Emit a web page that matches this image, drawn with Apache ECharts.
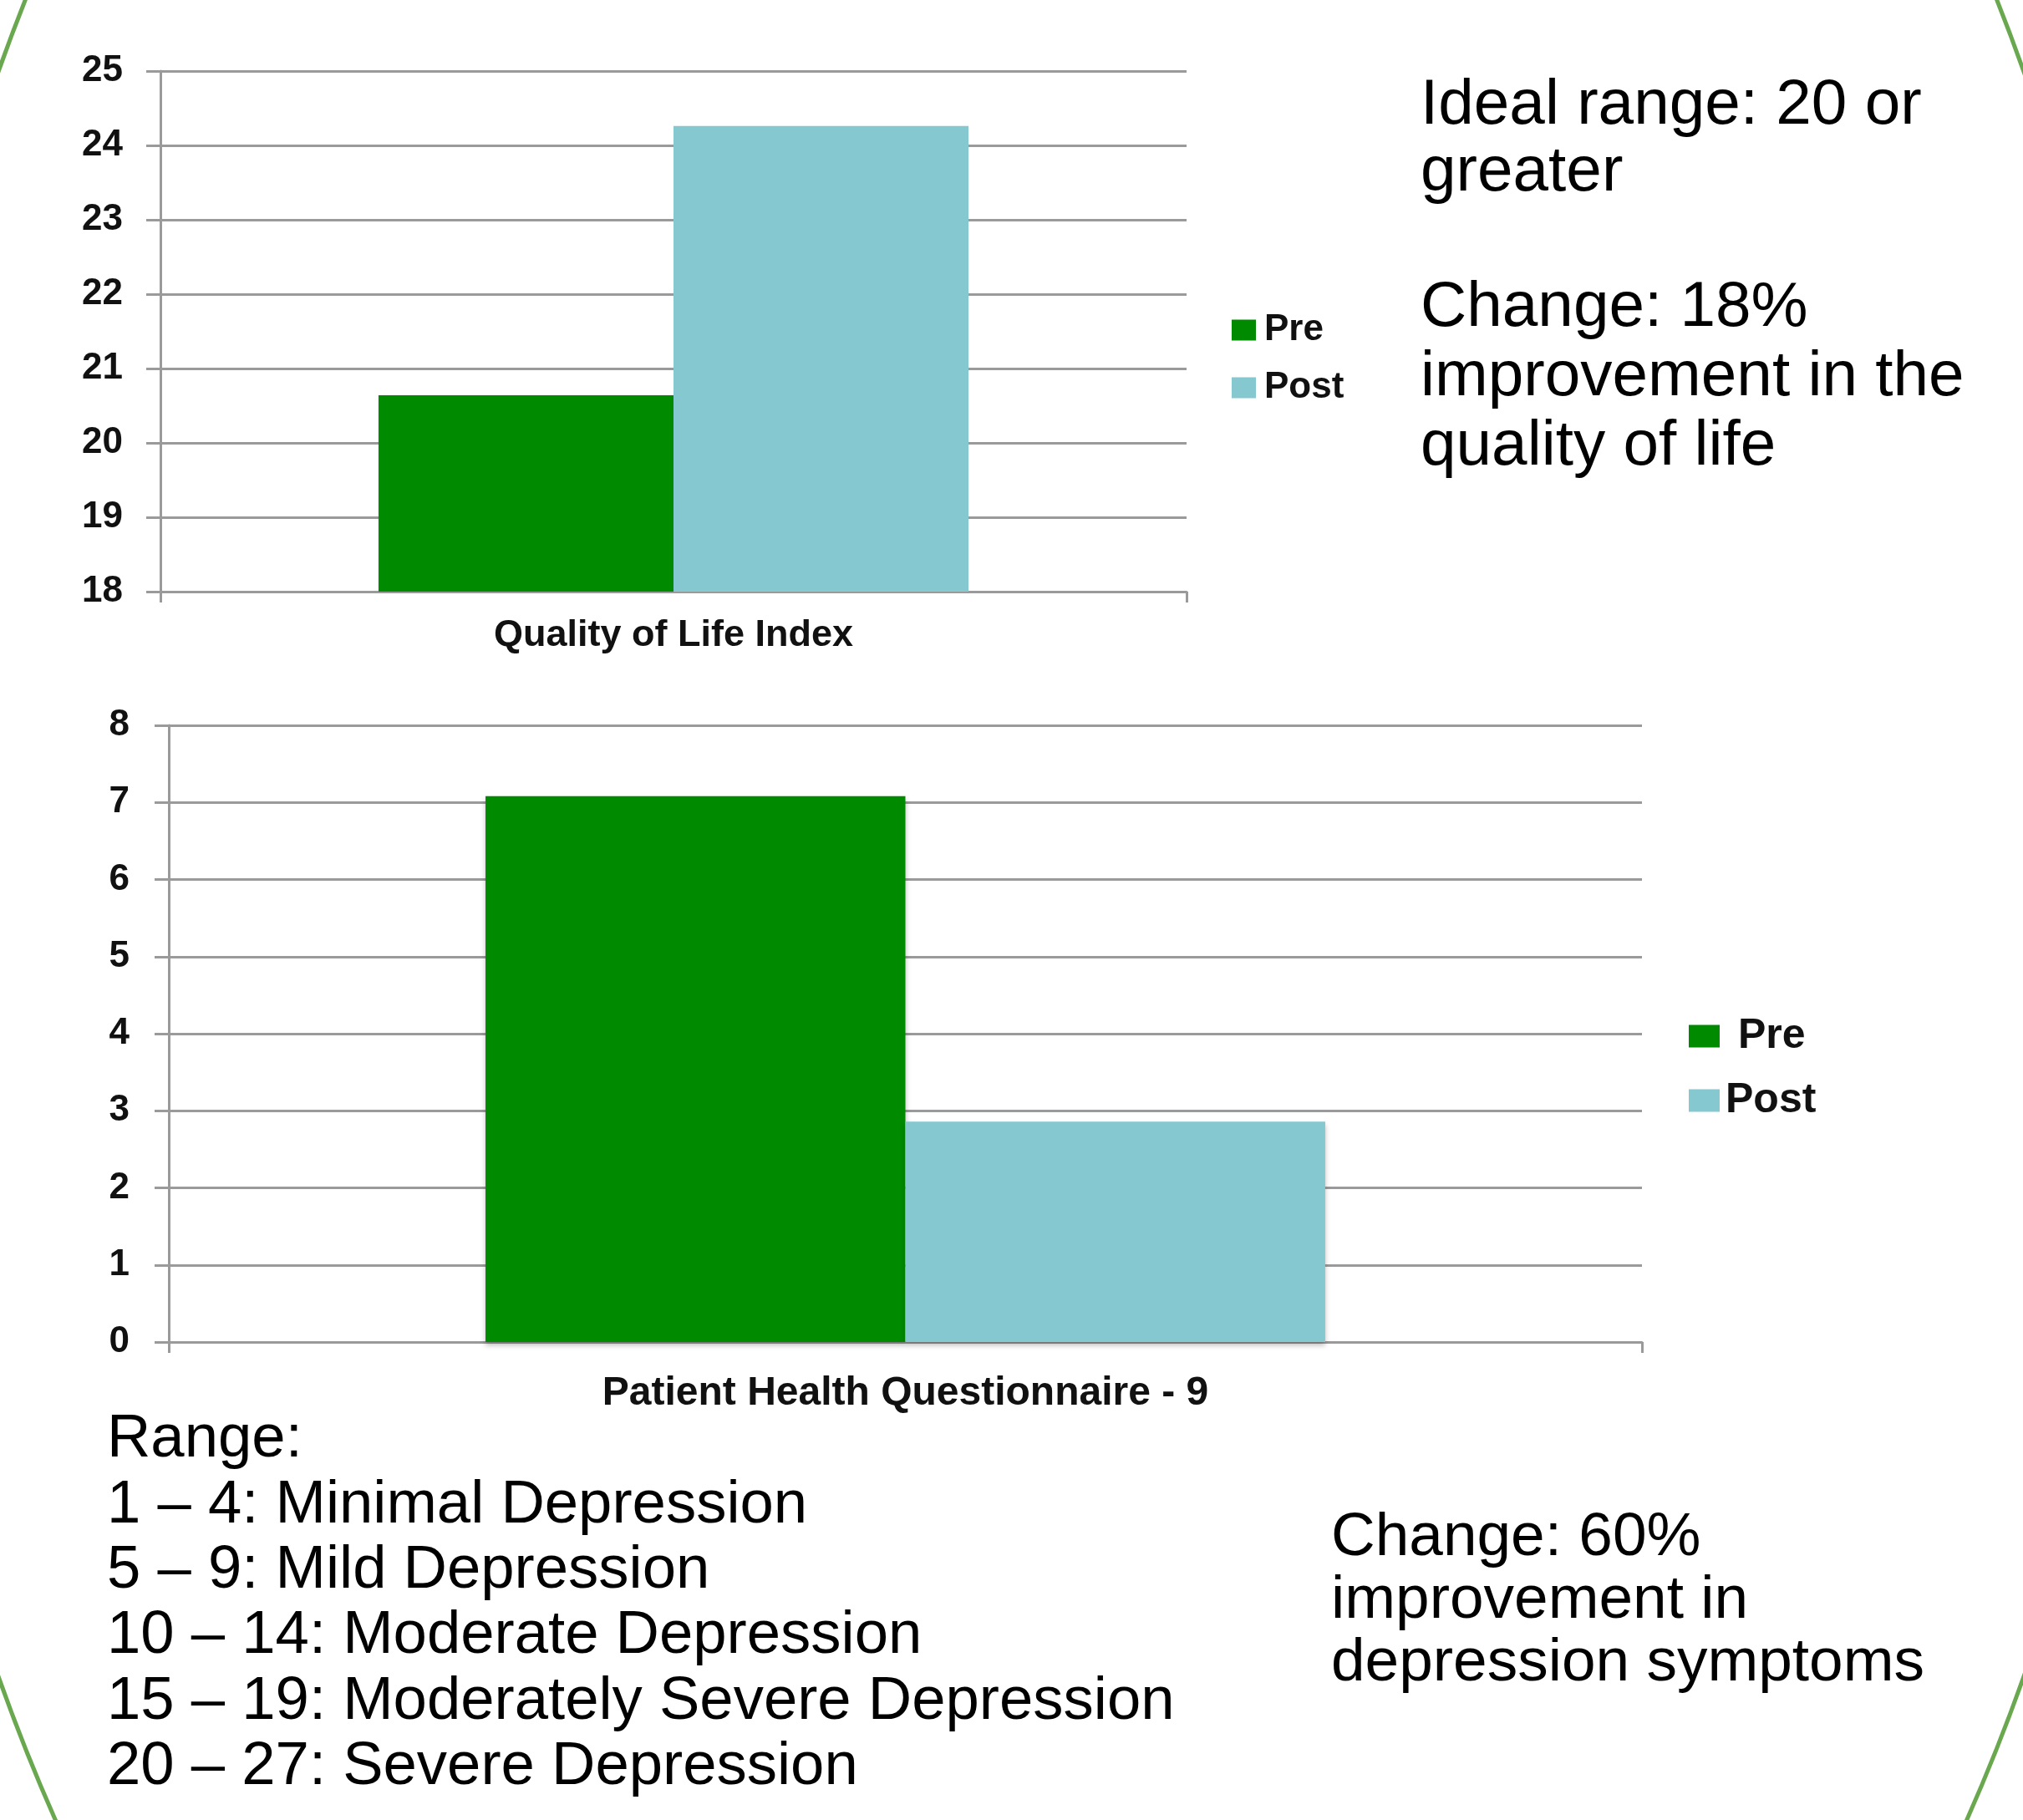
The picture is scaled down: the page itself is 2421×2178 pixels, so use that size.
<!DOCTYPE html>
<html>
<head>
<meta charset="utf-8">
<script src="https://cdn.jsdelivr.net/npm/echarts@6/dist/echarts.min.js"></script>
<style>
  html, body { margin: 0; padding: 0; background: #ffffff; }
  #main { width: 2421px; height: 2178px; }
</style>
</head>
<body>
<div id="main"></div>
<script>
// ---- data ----
var seriesNames = ['Pre', 'Post'];
var qolCategories = ['Quality of Life Index'];
var qolPre = [20.64];
var qolPost = [24.26];
var phqCategories = ['Patient Health Questionnaire - 9'];
var phqPre = [7.08];
var phqPost = [2.86];
var qolAxis = { min: 18, max: 25, interval: 1 };
var phqAxis = { min: 0, max: 8, interval: 1 };

var noteTop1 = ['Ideal range: 20 or', 'greater'];
var noteTop2 = ['Change: 18%', 'improvement in the', 'quality of life'];
var noteRange = ['Range:', '1 \u2013 4: Minimal Depression', '5 \u2013 9: Mild Depression',
  '10 \u2013 14: Moderate Depression', '15 \u2013 19: Moderately Severe Depression',
  '20 \u2013 27: Severe Depression'];
var noteBottom = ['Change: 60%', 'improvement in', 'depression symptoms'];

// ---- styles ----
var FONT = "'Liberation Sans', Arial, sans-serif";
var PRE_COLOR = '#008a00';
var POST_COLOR = '#86c8cf';
var GRID_COLOR = '#9a9a9a';

function valueAxis(gridIndex, cfg, margin) {
  return {
    type: 'value', gridIndex: gridIndex,
    min: cfg.min, max: cfg.max, interval: cfg.interval,
    axisLine: { show: true, lineStyle: { color: GRID_COLOR, width: 3 } },
    axisTick: { show: true, length: 17, lineStyle: { color: GRID_COLOR, width: 3 } },
    axisLabel: { color: '#111', fontFamily: FONT, fontSize: 44, fontWeight: 'bold', margin: margin },
    splitLine: { show: true, lineStyle: { color: GRID_COLOR, width: 3 } }
  };
}
function catAxis(gridIndex, cats, size, margin) {
  return {
    type: 'category', gridIndex: gridIndex, data: cats,
    axisLine: { show: true, lineStyle: { color: GRID_COLOR, width: 3 } },
    axisTick: { show: true, length: 13, lineStyle: { color: GRID_COLOR, width: 3 } },
    axisLabel: { color: '#111', fontFamily: FONT, fontSize: size, fontWeight: 'bold', margin: margin }
  };
}
function textBlock(lines, x, y, size, lh) {
  return {
    type: 'text', left: x, top: y, silent: true,
    style: { text: lines.join('\n'), fill: '#000', font: size + 'px ' + FONT, lineHeight: lh }
  };
}

var chart = echarts.init(document.getElementById('main'), null, { renderer: 'canvas' });
chart.setOption({
  backgroundColor: '#ffffff',
  animation: false,
  grid: [
    { left: 192, right: 1001, top: 85, bottom: 1470 },
    { left: 202, right: 456, top: 868, bottom: 572 }
  ],
  xAxis: [catAxis(0, qolCategories, 45, 30), catAxis(1, phqCategories, 48, 38)],
  yAxis: [valueAxis(0, qolAxis, 45), valueAxis(1, phqAxis, 47)],
  legend: [
    {
      orient: 'vertical', left: 1474, top: 373, padding: 0,
      itemWidth: 29, itemHeight: 25, itemGap: 25,
      icon: 'rect', selectedMode: false,
      textStyle: { fontFamily: FONT, fontSize: 44, fontWeight: 'bold', color: '#111', padding: [0, 0, 0, 5] },
      data: seriesNames
    },
    {
      orient: 'vertical', left: 2021, top: 1215, padding: 0,
      itemWidth: 37, itemHeight: 27, itemGap: 27,
      icon: 'rect', selectedMode: false,
      textStyle: { fontFamily: FONT, fontSize: 50, fontWeight: 'bold', color: '#111' },
      data: [
        { name: seriesNames[0], textStyle: { padding: [0, 0, 0, 17] } },
        { name: seriesNames[1], textStyle: { padding: [0, 0, 0, 2] } }
      ]
    }
  ],
  series: [
    { name: seriesNames[0], type: 'bar', xAxisIndex: 0, yAxisIndex: 0, data: qolPre,
      barGap: '0%', barCategoryGap: '42.5%', itemStyle: { color: PRE_COLOR } },
    { name: seriesNames[1], type: 'bar', xAxisIndex: 0, yAxisIndex: 0, data: qolPost,
      barGap: '0%', barCategoryGap: '42.5%', itemStyle: { color: POST_COLOR } },
    { name: seriesNames[0], type: 'bar', xAxisIndex: 1, yAxisIndex: 1, data: phqPre,
      barGap: '0%', barCategoryGap: '43%',
      itemStyle: { color: PRE_COLOR, shadowColor: 'rgba(0,0,0,0.25)', shadowBlur: 6, shadowOffsetY: 4 } },
    { name: seriesNames[1], type: 'bar', xAxisIndex: 1, yAxisIndex: 1, data: phqPost,
      barGap: '0%', barCategoryGap: '43%',
      itemStyle: { color: POST_COLOR, shadowColor: 'rgba(0,0,0,0.25)', shadowBlur: 6, shadowOffsetY: 4 } }
  ],
  graphic: [
    { type: 'ellipse', silent: true, z: -1,
      shape: { cx: 1210, cy: 1046, rx: 1371, ry: 2052 },
      style: { fill: 'none', stroke: '#6aa84f', lineWidth: 5 } },
    textBlock(noteTop1, 1700, 87, 76.5, 80),
    textBlock(noteTop2, 1700, 328, 76.5, 82.6),
    textBlock(noteRange, 128, 1684, 72.5, 78.4),
    textBlock(noteBottom, 1593, 1803, 73, 75)
  ]
});
</script>
</body>
</html>
